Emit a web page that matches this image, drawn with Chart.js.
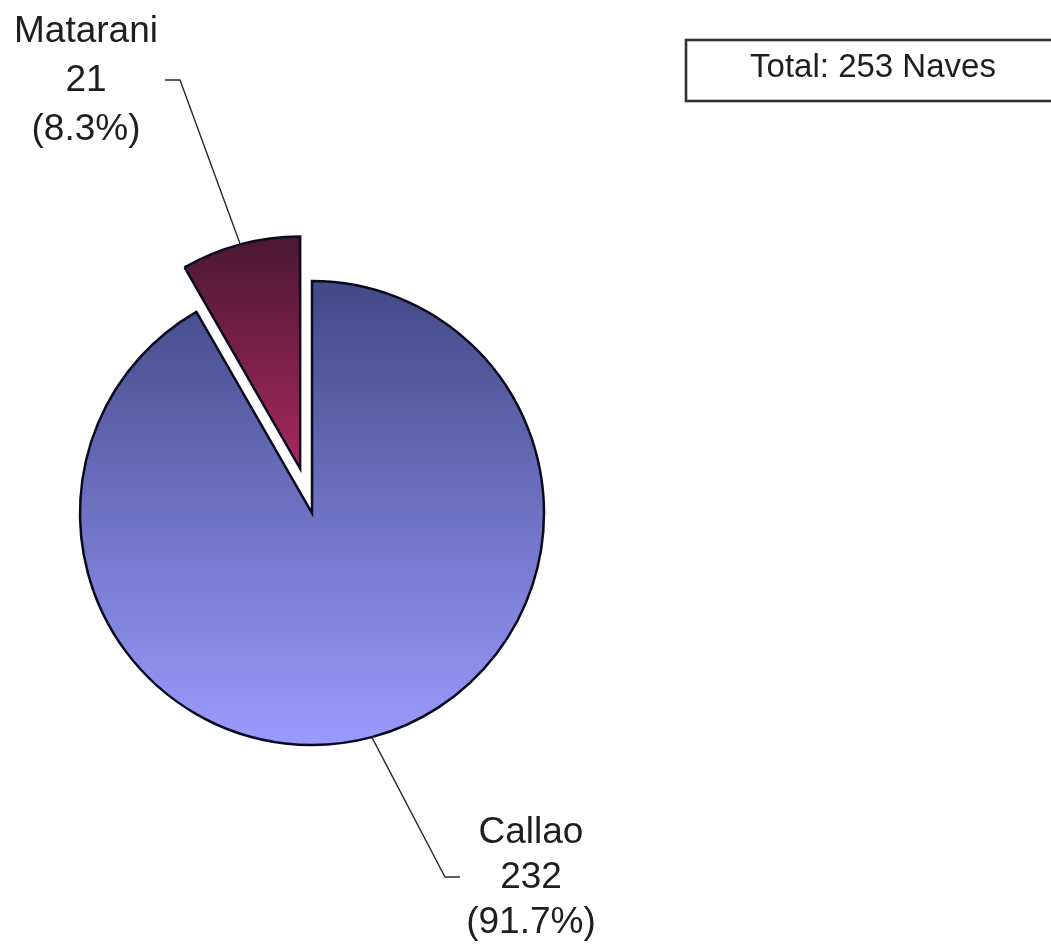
<!DOCTYPE html>
<html>
<head>
<meta charset="utf-8">
<script src="https://cdn.jsdelivr.net/npm/chart.js@4.4.0/dist/chart.umd.min.js"></script>
<style>
  html, body { margin: 0; padding: 0; background: #ffffff; }
  #wrap { position: relative; width: 1051px; height: 944px; overflow: hidden; }
  canvas { display: block; }
</style>
</head>
<body>
<div id="wrap"><canvas id="c" width="1051" height="944"></canvas></div>
<script>
// ---- data ----
const categories = ["Callao", "Matarani"];
const naves = [232, 21];
const totalLabel = "Total: 253 Naves";

// ---- helpers ----
const total = naves.reduce((a, b) => a + b, 0);
const FONT = '"Liberation Sans", Arial, Helvetica, sans-serif';
const RADIUS = 232;
const EXPLODE = [0, 46];

function gradientFor(ctx, top, bottom, c1, c2) {
  const g = ctx.createLinearGradient(0, top, 0, bottom);
  g.addColorStop(0, c1);
  g.addColorStop(1, c2);
  return g;
}

// pull exploded slices outwards along their bisector
const explodePlugin = {
  id: 'explode',
  afterDatasetsUpdate(chart) {
    const meta = chart.getDatasetMeta(0);
    meta.data.forEach((arc, i) => {
      const d = EXPLODE[i] || 0;
      if (!d) return;
      const mid = (arc.startAngle + arc.endAngle) / 2;
      arc.x += Math.cos(mid) * d;
      arc.y += Math.sin(mid) * d;
    });
  }
};

const labelsPlugin = {
  id: 'pieLabels',
  afterDraw(chart, args, opts) {
    const ctx = chart.ctx;
    const meta = chart.getDatasetMeta(0);
    ctx.save();
    meta.data.forEach((arc, i) => {
      const p = opts.places[i];
      const mid = (arc.startAngle + arc.endAngle) / 2;
      const sx = arc.x + Math.cos(mid) * arc.outerRadius;
      const sy = arc.y + Math.sin(mid) * arc.outerRadius;
      ctx.beginPath();
      ctx.strokeStyle = '#2a2a2a';
      ctx.lineWidth = 1.4;
      ctx.moveTo(sx, sy);
      ctx.lineTo(p.elbow[0], p.elbow[1]);
      ctx.lineTo(p.end[0], p.end[1]);
      ctx.stroke();
      ctx.fillStyle = '#1e1e1e';
      ctx.font = '37px ' + FONT;
      ctx.textAlign = 'center';
      ctx.textBaseline = 'alphabetic';
      const pct = (naves[i] / total * 100).toFixed(1);
      const lines = [categories[i], String(naves[i]), '(' + pct + '%)'];
      lines.forEach((t, k) => ctx.fillText(t, p.x, p.y + k * p.lh));
    });
    ctx.strokeStyle = '#333333';
    ctx.lineWidth = 2.6;
    ctx.strokeRect(686, 40, 400, 61);
    ctx.fillStyle = '#1e1e1e';
    ctx.font = '33px ' + FONT;
    ctx.textAlign = 'center';
    ctx.fillText(totalLabel, 873, 77);
    ctx.restore();
  }
};

new Chart(document.getElementById('c'), {
  type: 'pie',
  data: {
    labels: categories,
    datasets: [{
      data: naves,
      backgroundColor: (context) => {
        const chart = context.chart;
        const area = chart.chartArea;
        if (!area) return '#7f80e0';
        const cy = (area.top + area.bottom) / 2;
        if (context.dataIndex === 0) {
          return gradientFor(chart.ctx, cy - RADIUS, cy + RADIUS, '#424986', '#9a9bff');
        }
        return gradientFor(chart.ctx, cy - RADIUS - 46, cy - 44, '#4a1733', '#a8285f');
      },
      borderColor: '#0a0a1e',
      borderWidth: 2.5,
      borderJoinStyle: 'miter',
      hoverOffset: 0
    }]
  },
  options: {
    responsive: false,
    animation: false,
    devicePixelRatio: 1,
    radius: RADIUS,
    rotation: 0,
    layout: { padding: { left: 0, right: 427, top: 82, bottom: 0 } },
    plugins: {
      legend: { display: false },
      tooltip: { enabled: false },
      pieLabels: {
        places: [
          { x: 531, y: 843, lh: 45, elbow: [445, 877], end: [460, 877] },
          { x: 86, y: 42, lh: 49, elbow: [180, 80], end: [165, 80] }
        ]
      }
    }
  },
  plugins: [explodePlugin, labelsPlugin]
});
</script>
</body>
</html>
